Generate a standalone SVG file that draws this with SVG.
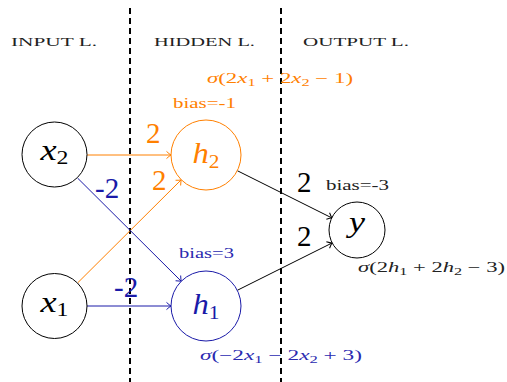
<svg xmlns="http://www.w3.org/2000/svg" width="507" height="382" viewBox="0 0 507 382" font-family="'Liberation Serif', 'DejaVu Serif', serif">
<style>
text{font-family:'Liberation Serif','DejaVu Serif',serif;}
.layer{font-size:13.5px;fill:#222;}
.div{stroke:#000;stroke-width:2;stroke-dasharray:6 4;fill:none;}
.node{fill:#fff;stroke-width:1;}
.nl{font-size:29px;font-style:italic;text-anchor:middle;}
.sub{font-style:normal;font-size:19px;}
.w{font-size:29px;}
.sm{font-size:14px;}
.mi{font-style:italic;}
.ms{font-size:10px;}
.e{fill:none;stroke-width:1;}
.or{stroke:#ff8000;}
.bl{stroke:#1a1aa8;}
.bk{stroke:#000;}
</style>
<defs>
<marker id="ao" markerUnits="userSpaceOnUse" viewBox="-6 -5 7 10" refX="0" refY="0" markerWidth="7" markerHeight="10" orient="auto"><path d="M-4.5,-3.6 Q-1.6,-0.9 0,0 Q-1.6,0.9 -4.5,3.6" fill="none" stroke="#ff8000" stroke-width="1"/></marker>
<marker id="ab" markerUnits="userSpaceOnUse" viewBox="-6 -5 7 10" refX="0" refY="0" markerWidth="7" markerHeight="10" orient="auto"><path d="M-4.5,-3.6 Q-1.6,-0.9 0,0 Q-1.6,0.9 -4.5,3.6" fill="none" stroke="#1a1aa8" stroke-width="1"/></marker>
<marker id="ak" markerUnits="userSpaceOnUse" viewBox="-6 -5 7 10" refX="0" refY="0" markerWidth="7" markerHeight="10" orient="auto"><path d="M-4.5,-3.6 Q-1.6,-0.9 0,0 Q-1.6,0.9 -4.5,3.6" fill="none" stroke="#000" stroke-width="1"/></marker>
</defs>
<rect width="507" height="382" fill="#fff"/>
<g id="layers">
<text class="layer" x="11" y="46" textLength="86" lengthAdjust="spacingAndGlyphs">INPUT L.</text>
<text class="layer" x="154" y="46" textLength="101" lengthAdjust="spacingAndGlyphs">HIDDEN L.</text>
<text class="layer" x="303" y="46" textLength="106" lengthAdjust="spacingAndGlyphs">OUTPUT L.</text>
<line class="div" x1="130" y1="8" x2="130" y2="382"/>
<line class="div" x1="281" y1="8" x2="281" y2="382"/>
</g>
<g id="connectors">
<line class="e or" x1="87" y1="155" x2="171" y2="155" marker-end="url(#ao)"/>
<line class="e or" x1="77.5" y1="283" x2="181.3" y2="179.7" marker-end="url(#ao)"/>
<line class="e bl" x1="77.5" y1="178" x2="181.3" y2="281.3" marker-end="url(#ab)"/>
<line class="e bl" x1="87" y1="306" x2="171" y2="306" marker-end="url(#ab)"/>
<line class="e bk" x1="237.3" y1="170.7" x2="332" y2="218" marker-end="url(#ak)"/>
<line class="e bk" x1="237.3" y1="290.3" x2="332" y2="243" marker-end="url(#ak)"/>
<text class="w" x="146" y="143" fill="#ff8000">2</text>
<text class="w" x="152" y="190" fill="#ff8000">2</text>
<text class="w" x="95" y="198" fill="#1a1aa8">-2</text>
<text class="w" x="114" y="297" fill="#1a1aa8">-2</text>
<text class="w" x="297" y="192" fill="#000">2</text>
<text class="w" x="297" y="246" fill="#000">2</text>
</g>
<g id="x2">
<circle class="node" cx="54.5" cy="154.5" r="32.5" stroke="#000"/>
<text class="nl" x="54.5" y="160" fill="#000" textLength="28" lengthAdjust="spacingAndGlyphs">x<tspan class="sub" dy="4">2</tspan></text>
</g>
<g id="x1">
<circle class="node" cx="54.5" cy="306" r="32.5" stroke="#000"/>
<text class="nl" x="54.5" y="311.5" fill="#000" textLength="28" lengthAdjust="spacingAndGlyphs">x<tspan class="sub" dy="4">1</tspan></text>
</g>
<g id="h2">
<circle class="node" cx="206" cy="155" r="35" stroke="#ff8000"/>
<text class="nl" x="206" y="163" fill="#ff8000" textLength="27" lengthAdjust="spacingAndGlyphs">h<tspan class="sub" dy="5">2</tspan></text>
<text class="sm" x="173" y="108" fill="#ff8000" textLength="63" lengthAdjust="spacingAndGlyphs">bias=-1</text>
<text class="sm" x="207" y="83" fill="#ff8000" textLength="146" lengthAdjust="spacingAndGlyphs"><tspan class="mi">σ</tspan>(2<tspan class="mi">x</tspan><tspan class="ms" dy="3">1</tspan><tspan dy="-3"> + 2</tspan><tspan class="mi">x</tspan><tspan class="ms" dy="3">2</tspan><tspan dy="-3"> − 1)</tspan></text>
</g>
<g id="h1">
<circle class="node" cx="206" cy="306" r="35" stroke="#1a1aa8"/>
<text class="nl" x="206" y="314" fill="#1a1aa8" textLength="27" lengthAdjust="spacingAndGlyphs">h<tspan class="sub" dy="5">1</tspan></text>
<text class="sm" x="179" y="258" fill="#2a2ab0" textLength="55" lengthAdjust="spacingAndGlyphs">bias=3</text>
<text class="sm" x="200" y="360" fill="#2a2ab0" textLength="162" lengthAdjust="spacingAndGlyphs"><tspan class="mi">σ</tspan>(−2<tspan class="mi">x</tspan><tspan class="ms" dy="3">1</tspan><tspan dy="-3"> − 2</tspan><tspan class="mi">x</tspan><tspan class="ms" dy="3">2</tspan><tspan dy="-3"> + 3)</tspan></text>
</g>
<g id="y">
<circle class="node" cx="357" cy="230" r="28" stroke="#000"/>
<text class="nl" x="357" y="232" fill="#000" textLength="16" lengthAdjust="spacingAndGlyphs">y</text>
<text class="sm" x="326" y="190" fill="#222" textLength="63" lengthAdjust="spacingAndGlyphs">bias=-3</text>
<text class="sm" x="358" y="272" fill="#222" textLength="147" lengthAdjust="spacingAndGlyphs"><tspan class="mi">σ</tspan>(2<tspan class="mi">h</tspan><tspan class="ms" dy="3">1</tspan><tspan dy="-3"> + 2</tspan><tspan class="mi">h</tspan><tspan class="ms" dy="3">2</tspan><tspan dy="-3"> − 3)</tspan></text>
</g>
</svg>
